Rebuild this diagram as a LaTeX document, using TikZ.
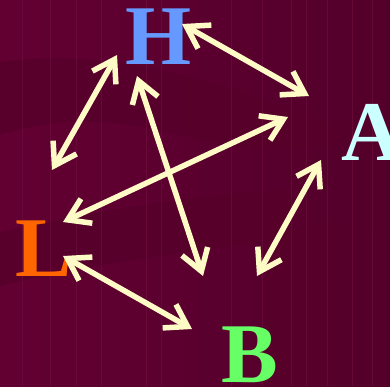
\documentclass[tikz,border=0pt]{standalone}
\usepackage{fontspec}
\setmainfont{Liberation Serif}
\usetikzlibrary{arrows.meta}
\definecolor{bgbase}{HTML}{620032}
\definecolor{bgdark}{HTML}{56002A}
\definecolor{bgline}{HTML}{70103F}
\definecolor{arrowc}{HTML}{FFFBC6}
\definecolor{hcol}{HTML}{6699FF}
\definecolor{acol}{HTML}{CCFFFF}
\definecolor{lcol}{HTML}{FF6600}
\definecolor{bcol}{HTML}{66FF66}
\tikzset{
  letter/.style={inner sep=0pt, anchor=base, font=\fontsize{85}{85}\selectfont\bfseries},
  dbl/.style={draw=arrowc, line width=5.5pt,
    {Straight Barb[length=21pt,width=27pt]}-{Straight Barb[length=21pt,width=27pt]}},
  band/.style={fill=bgdark, draw=none, opacity=0.8}
}
\begin{document}
\begin{tikzpicture}[x=1pt,y=-1pt]
\useasboundingbox (0,0) rectangle (390,386);
% background
\shade[left color=bgbase, right color=bgbase!85!black] (0,0) rectangle (390,386);
\fill[band] (0,62) .. controls (100,48) and (200,75) .. (300,112)
  .. controls (340,126) and (370,140) .. (390,143)
  .. controls (300,150) and (250,150) .. (200,140)
  .. controls (140,125) and (80,110) .. (0,135) -- cycle;
\fill[band] (0,232) .. controls (80,215) and (180,195) .. (290,190)
  -- (290,238) .. controls (200,250) and (100,262) .. (0,286) -- cycle;
\fill[band] (265,240) .. controls (300,228) and (330,220) .. (350,223)
  .. controls (370,228) and (380,236) .. (390,242) -- (390,386) -- (265,386) -- cycle;
\foreach \xx in {22,50,76,101,146,161,231,262,291,306,327,352,372}
  \draw[bgline, line width=0.6pt, opacity=0.6] (\xx,0) -- (\xx,386);
% letters
\node[letter, text=hcol] (H) at (158.5,64) {H};
\node[letter, text=acol] (A) at (372,160) {A};
\node[letter, text=lcol] (L) at (44,276) {L};
\node[letter, text=bcol] (B) at (249.5,382) {B};
% arrow end points
\coordinate (ha1) at (182,24);
\coordinate (ha2) at (309,96);
\coordinate (hl1) at (117,55);
\coordinate (hl2) at (52,170);
\coordinate (hb1) at (137,76);
\coordinate (hb2) at (203,276);
\coordinate (la1) at (63,222);
\coordinate (la2) at (288,117);
\coordinate (ab1) at (321,160);
\coordinate (ab2) at (257,276);
\coordinate (lb1) at (63,256);
\coordinate (lb2) at (192,329);
% arrows
\draw[dbl] (ha1) -- (ha2);
\draw[dbl] (hl1) -- (hl2);
\draw[dbl] (hb1) -- (hb2);
\draw[dbl] (la1) -- (la2);
\draw[dbl] (ab1) -- (ab2);
\draw[dbl] (lb1) -- (lb2);
\end{tikzpicture}
\end{document}
